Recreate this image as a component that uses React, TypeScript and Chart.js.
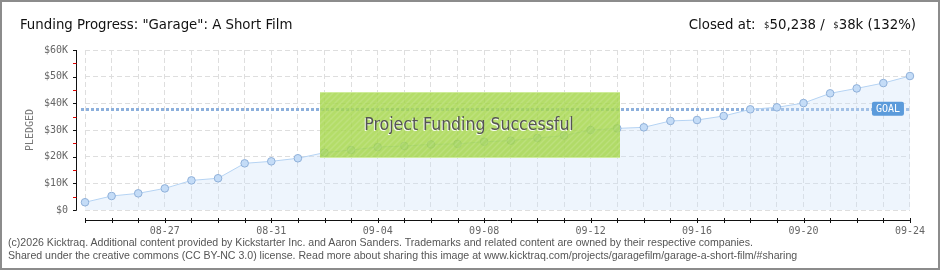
import React, { useEffect, useRef } from "react";
import { Chart, registerables } from "chart.js";

Chart.register(...registerables);

const dates = [
  "08-24", "08-25", "08-26", "08-27", "08-28", "08-29", "08-30", "08-31",
  "09-01", "09-02", "09-03", "09-04", "09-05", "09-06", "09-07", "09-08",
  "09-09", "09-10", "09-11", "09-12", "09-13", "09-14", "09-15", "09-16",
  "09-17", "09-18", "09-19", "09-20", "09-21", "09-22", "09-23", "09-24",
];
const pledged = [
  2900, 5250, 6250, 8100, 11100, 11900, 17500, 18250,
  19400, 21500, 22500, 23600, 24000, 24600, 24800, 25600,
  26000, 27000, 27900, 30000, 30600, 31000, 33400, 33750,
  35250, 37750, 38500, 40100, 43750, 45600, 47600, 50238,
];
const goal = 38000;
const xLabelDates = ["08-27", "08-31", "09-04", "09-08", "09-12", "09-16", "09-20", "09-24"];
const yTickLabels = ["$0", "$10K", "$20K", "$30K", "$40K", "$50K", "$60K"];
const titleText = "Funding Progress: \"Garage\": A Short Film";
const bannerText = "Project Funding Successful";
const goalText = "GOAL";
const axisTitle = "PLEDGED";

const CONDENSED = "'Liberation Sans Narrow', 'DejaVu Sans Condensed', sans-serif";
const MONO = "'DejaVu Sans Mono', monospace";

function makeHatch(): CanvasPattern | string {
  const c = document.createElement("canvas");
  c.width = 6;
  c.height = 6;
  const g = c.getContext("2d");
  if (!g) return "rgba(0,0,0,0)";
  g.strokeStyle = "rgba(255,255,255,0.13)";
  g.lineWidth = 1.5;
  g.beginPath();
  g.moveTo(0, 6);
  g.lineTo(6, 0);
  g.moveTo(-3, 3);
  g.lineTo(3, -3);
  g.moveTo(3, 9);
  g.lineTo(9, 3);
  g.stroke();
  const p = g.createPattern(c, "repeat");
  return p || "rgba(0,0,0,0)";
}

const overlayPlugin = {
  id: "overlay",
  beforeDatasetsDraw(chart: any) {
    const { ctx, chartArea, scales } = chart;
    const y = Math.round(scales.y.getPixelForValue(goal)) + 0.5;
    ctx.save();
    ctx.strokeStyle = "#8db0dc";
    ctx.lineWidth = 3;
    ctx.setLineDash([3, 2]);
    ctx.beginPath();
    ctx.moveTo(chartArea.left - 4, y);
    ctx.lineTo(chartArea.right, y);
    ctx.stroke();
    ctx.restore();
  },
  afterDatasetsDraw(chart: any) {
    const { ctx, scales, chartArea } = chart;
    // GOAL label
    const gy = scales.y.getPixelForValue(goal);
    ctx.save();
    ctx.fillStyle = "#5b9bdb";
    const lx = chartArea.right - 38;
    ctx.beginPath();
    (ctx as any).roundRect(lx, gy - 7, 32, 14, 2);
    ctx.fill();
    ctx.fillStyle = "#ffffff";
    ctx.font = `10px ${MONO}`;
    ctx.textAlign = "center";
    ctx.textBaseline = "middle";
    ctx.fillText(goalText, lx + 16, gy + 0.5);
    ctx.restore();

    // Success banner
    const bx = 320, by = 92, bw = 300, bh = 66;
    ctx.save();
    ctx.fillStyle = "rgba(163, 214, 72, 0.82)";
    ctx.fillRect(bx, by, bw, bh);
    ctx.fillStyle = makeHatch();
    ctx.fillRect(bx, by, bw, bh);
    ctx.fillStyle = "rgba(210,238,160,0.9)";
    ctx.fillRect(bx, by, bw, 1);
    ctx.fillRect(bx, by + bh - 1, bw, 1);
    ctx.font = `17.5px ${CONDENSED}`;
    ctx.textAlign = "center";
    ctx.textBaseline = "middle";
    ctx.fillStyle = "rgba(255,255,255,0.9)";
    ctx.fillText(bannerText, bx + bw / 2 - 2, by + bh / 2 + 1);
    ctx.fillStyle = "#555555";
    ctx.fillText(bannerText, bx + bw / 2 - 1, by + bh / 2);
    ctx.restore();
  },
  afterDraw(chart: any) {
    const { ctx, chartArea, scales } = chart;
    ctx.save();
    ctx.strokeStyle = "#111111";
    ctx.lineWidth = 1;
    // y axis
    const ax = chartArea.left - 8.5;
    ctx.beginPath();
    ctx.moveTo(ax, chartArea.top);
    ctx.lineTo(ax, chartArea.bottom + 0.5);
    ctx.stroke();
    for (let i = 0; i < yTickLabels.length; i++) {
      const yy = Math.round(scales.y.getPixelForValue(i * 10000)) + 0.5;
      ctx.strokeStyle = "#111111";
      ctx.beginPath();
      ctx.moveTo(ax - 3.5, yy);
      ctx.lineTo(ax, yy);
      ctx.stroke();
      if (i < yTickLabels.length - 1) {
        const ym = Math.round(scales.y.getPixelForValue(i * 10000 + 5000)) + 0.5;
        ctx.strokeStyle = "#e00000";
        ctx.beginPath();
        ctx.moveTo(ax - 3.5, ym);
        ctx.lineTo(ax, ym);
        ctx.stroke();
      }
    }
    // x axis
    const ay = chartArea.bottom + 10.5;
    ctx.strokeStyle = "#111111";
    ctx.beginPath();
    ctx.moveTo(chartArea.left, ay);
    ctx.lineTo(chartArea.right, ay);
    ctx.stroke();
    for (let i = 0; i < dates.length; i++) {
      const xx = Math.round(scales.x.getPixelForValue(i)) + 0.5;
      ctx.beginPath();
      ctx.moveTo(xx, ay - 2.5);
      ctx.lineTo(xx, ay + 2.5);
      ctx.stroke();
    }
    ctx.restore();
  },
};

function FundingChart() {
  const ref = useRef<HTMLCanvasElement | null>(null);
  useEffect(() => {
    if (!ref.current) return;
    const chart = new Chart(ref.current, {
      type: "line",
      data: {
        labels: dates,
        datasets: [
          {
            data: pledged,
            borderColor: "#b5d3f3",
            borderWidth: 1,
            backgroundColor: "rgba(205,226,250,0.35)",
            fill: "origin",
            pointRadius: 3.8,
            pointBackgroundColor: "#c4dcf7",
            pointBorderColor: "#8fb0d9",
            pointBorderWidth: 1,
            tension: 0,
            clip: false as any,
          },
        ],
      },
      options: {
        responsive: false,
        animation: false,
        events: [],
        layout: { padding: { left: 0, right: 30, top: 50, bottom: 30 } },
        plugins: {
          legend: { display: false },
          tooltip: { enabled: false },
        },
        scales: {
          x: {
            type: "category",
            offset: false,
            afterFit: (s: any) => {
              s.height = 30;
            },
            grid: {
              color: "#dedede",
              drawTicks: false,
            },
            border: { display: false, dash: [5, 3] },
            ticks: {
              autoSkip: false,
              maxRotation: 0,
              padding: 15,
              color: "#666666",
              font: { family: MONO, size: 10 },
              callback: (_v: any, i: number) => (xLabelDates.includes(dates[i]) ? dates[i] : ""),
            },
          },
          y: {
            min: 0,
            max: 60000,
            afterFit: (s: any) => {
              s.width = 85;
            },
            grid: {
              color: "#dedede",
              drawTicks: false,
            },
            border: { display: false, dash: [5, 3] },
            ticks: {
              stepSize: 10000,
              padding: 17,
              color: "#666666",
              font: { family: MONO, size: 10 },
              callback: (_v: any, i: number) => yTickLabels[i],
            },
            title: {
              display: true,
              text: axisTitle,
              color: "#777777",
              font: { family: MONO, size: 10 },
              padding: { top: 24, bottom: 0 },
            },
          },
        },
      },
      plugins: [overlayPlugin],
    });
    return () => chart.destroy();
  }, []);
  return <canvas ref={ref} width={940} height={270} style={{ position: "absolute", left: 0, top: 0 }} />;
}

export default function App() {
  const sup: React.CSSProperties = { fontSize: 9.5, verticalAlign: "top", position: "relative", top: 1 };
  return (
    <div style={{ position: "fixed", left: 0, top: 0, width: 940, height: 270, background: "#ffffff", overflow: "hidden" }}>
      <FundingChart />
      <div
        style={{
          position: "absolute", left: 20, top: 14, fontFamily: CONDENSED, fontSize: 14.8,
          lineHeight: "20px", color: "#111", whiteSpace: "nowrap",
        }}
      >
        {titleText}
      </div>
      <div
        style={{
          position: "absolute", right: 24, top: 14, fontFamily: CONDENSED, fontSize: 14.8,
          lineHeight: "20px", color: "#111", whiteSpace: "nowrap",
        }}
      >
        Closed at:&nbsp; <span style={sup}>$</span>50,238 /&nbsp; <span style={sup}>$</span>38k (132%)
      </div>
      <div
        style={{
          position: "absolute", left: 8, top: 236, fontFamily: "'Liberation Sans', Arial, sans-serif",
          fontSize: 10.6, lineHeight: "12.5px", color: "#555", whiteSpace: "nowrap",
        }}
      >
        <div>(c)2026 Kicktraq. Additional content provided by Kickstarter Inc. and Aaron Sanders. Trademarks and related content are owned by their respective companies.</div>
        <div>Shared under the creative commons (CC BY-NC 3.0) license. Read more about sharing this image at www.kicktraq.com/projects/garagefilm/garage-a-short-film/#sharing</div>
      </div>
      <div
        style={{
          position: "absolute", left: 0, top: 0, width: 940, height: 270, boxSizing: "border-box",
          border: "2px solid #8c8c8c", pointerEvents: "none",
        }}
      />
    </div>
  );
}
